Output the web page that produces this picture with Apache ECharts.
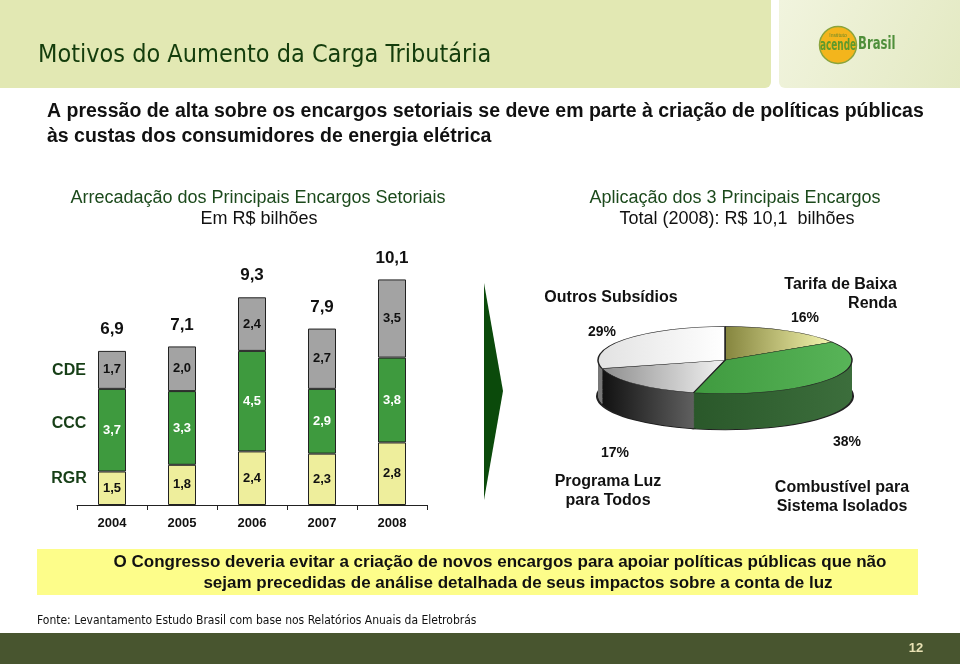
<!DOCTYPE html>
<html>
<head>
<meta charset="utf-8">
<script src="https://cdn.jsdelivr.net/npm/echarts@6/dist/echarts.min.js"></script>
<style>
html,body{margin:0;padding:0;background:#fff;}
#main{position:absolute;left:0;top:0;width:960px;height:664px;}
#pie{position:absolute;left:575px;top:323px;width:300px;height:420px;transform:scaleY(0.265);transform-origin:0 0;}
</style>
</head>
<body>
<div id="main"></div>
<div id="pie"></div>
<script>
// ---- data ----
const years = ['2004', '2005', '2006', '2007', '2008'];
const rgr = [1.5, 1.8, 2.4, 2.3, 2.8];
const ccc = [3.7, 3.3, 4.5, 2.9, 3.8];
const cde = [1.7, 2.0, 2.4, 2.7, 3.5];
const totals = [6.9, 7.1, 9.3, 7.9, 10.1];
const seriesNames = ['RGR', 'CCC', 'CDE'];

const pieNames = ['Tarifa de Baixa\nRenda', 'Combustível para\nSistema Isolados', 'Programa Luz\npara Todos', 'Outros Subsídios'];
const pieValues = [16, 38, 17, 29];

const fmt = v => v.toFixed(1).replace('.', ',');
const SANS = 'Liberation Sans, Arial, sans-serif';
const COND = 'DejaVu Sans Condensed, sans-serif';

// ---- main chart ----
const chart = echarts.init(document.getElementById('main'));

function txt(x, y, text, font, fill, align, extra) {
  return Object.assign({
    type: 'text', x: x, y: y, silent: true,
    style: { text: text, font: font, fill: fill, align: align || 'left', verticalAlign: 'middle' }
  }, extra || {});
}

const pieLabelPos = [
  { name: [897, 294, 'right'], pct: [805, 318] },
  { name: [842, 497, 'center'], pct: [847, 442] },
  { name: [608, 491, 'center'], pct: [615, 453] },
  { name: [611, 298, 'center'], pct: [602, 332] }
];

const graphics = [
  // header band
  { type: 'rect', shape: { x: 0, y: 0, width: 771, height: 88, r: [0, 0, 6, 0] }, style: { fill: '#e2e8b3' }, silent: true },
  { type: 'rect', shape: { x: 779, y: 0, width: 181, height: 88, r: [0, 0, 0, 6] },
    style: { fill: new echarts.graphic.LinearGradient(0, 0, 1, 1, [{ offset: 0, color: '#f1f4de' }, { offset: 1, color: '#e3e9c2' }]) }, silent: true },
  { type: 'circle', shape: { cx: 838, cy: 45, r: 18.5 }, style: { fill: '#f3b51c', stroke: '#8aa43c', lineWidth: 1.5 }, silent: true },
  txt(838, 36, 'Instituto', '5px ' + SANS, '#6a8a2a', 'center'),
  txt(838, 46, 'acende', 'bold 16px ' + COND, '#5e9a2c', 'center', { scaleX: 0.62 }),
  txt(858, 44, 'Brasil', 'bold 18px ' + COND, '#4f8f3a', 'left', { scaleX: 0.72 }),
  txt(38, 55, 'Motivos do Aumento da Carga Tributária', '25px ' + COND, '#143d0c'),
  // subtitle
  txt(47, 112, 'A pressão de alta sobre os encargos setoriais se deve em parte à criação de políticas públicas', 'bold 19.5px ' + SANS, '#111'),
  txt(47, 137, 'às custas dos consumidores de energia elétrica', 'bold 19.5px ' + SANS, '#111'),
  // chart titles
  txt(258, 198, 'Arrecadação dos Principais Encargos Setoriais', '18px ' + SANS, '#1c4a1c', 'center'),
  txt(259, 219, 'Em R$ bilhões', '18px ' + SANS, '#111', 'center'),
  txt(735, 198, 'Aplicação dos 3 Principais Encargos', '18px ' + SANS, '#1c4a1c', 'center'),
  txt(737, 219, 'Total (2008): R$ ' + fmt(totals[totals.length - 1]) + '  bilhões', '18px ' + SANS, '#111', 'center'),
  // row labels
  txt(69, 371, seriesNames[2], 'bold 16px ' + SANS, '#173f17', 'center'),
  txt(69, 424, seriesNames[1], 'bold 16px ' + SANS, '#173f17', 'center'),
  txt(69, 479, seriesNames[0], 'bold 16px ' + SANS, '#173f17', 'center'),
  // arrow
  { type: 'polygon', shape: { points: [[484, 283], [503, 391], [484, 500]] }, style: { fill: '#0b4a0b' }, silent: true },
  // bottom box
  { type: 'rect', shape: { x: 37, y: 549, width: 881, height: 46 }, style: { fill: '#fdfd8a' }, silent: true },
  txt(500, 562, 'O Congresso deveria evitar a criação de novos encargos para apoiar políticas públicas que não', 'bold 17px ' + SANS, '#111', 'center'),
  txt(518, 583, 'sejam precedidas de análise detalhada de seus impactos sobre a conta de luz', 'bold 17px ' + SANS, '#111', 'center'),
  txt(37, 621, 'Fonte: Levantamento Estudo Brasil com base nos Relatórios Anuais da Eletrobrás', '12px ' + COND, '#111'),
  // footer band
  { type: 'rect', shape: { x: 0, y: 633, width: 960, height: 31 }, style: { fill: '#48552f' }, silent: true },
  txt(916, 648, '12', 'bold 13px ' + SANS, '#e9e2b4', 'center')
];

pieValues.forEach((v, i) => {
  const p = pieLabelPos[i];
  graphics.push({
    type: 'text', x: p.name[0], y: p.name[1], silent: true,
    style: { text: pieNames[i], font: 'bold 16px ' + SANS, fill: '#111', align: p.name[2], verticalAlign: 'middle', lineHeight: 19 }
  });
  graphics.push(txt(p.pct[0], p.pct[1], v + '%', 'bold 14px ' + SANS, '#111', 'center'));
});

const segLabel = (color) => ({
  show: true, position: 'inside', color: color, fontWeight: 'bold', fontSize: 13, fontFamily: SANS,
  formatter: p => fmt(p.value)
});

chart.setOption({
  animation: false,
  backgroundColor: '#fff',
  grid: { left: 77, right: 533, top: 237, bottom: 159 },
  xAxis: {
    type: 'category', data: years,
    axisLine: { lineStyle: { color: '#222', width: 1 } },
    axisTick: { show: true, alignWithLabel: false, length: 5, lineStyle: { color: '#222' } },
    axisLabel: { color: '#111', fontWeight: 'bold', fontSize: 13, fontFamily: SANS, margin: 12 }
  },
  yAxis: { type: 'value', min: 0, max: 12, show: false, splitLine: { show: false } },
  series: [
    { name: seriesNames[0], type: 'bar', stack: 's', barWidth: 28, data: rgr,
      itemStyle: { color: '#eeee9c', borderColor: '#222', borderWidth: 1 }, label: segLabel('#111') },
    { name: seriesNames[1], type: 'bar', stack: 's', barWidth: 28, data: ccc,
      itemStyle: { color: '#3e9a3e', borderColor: '#222', borderWidth: 1 }, label: segLabel('#fff') },
    { name: seriesNames[2], type: 'bar', stack: 's', barWidth: 28, data: cde,
      itemStyle: { color: '#a3a3a3', borderColor: '#222', borderWidth: 1 }, label: segLabel('#111') },
    { name: 'Total', type: 'bar', barWidth: 28, barGap: '-100%', data: totals, silent: true, z: 1,
      itemStyle: { color: 'rgba(0,0,0,0)' },
      label: { show: true, position: 'top', distance: 13, color: '#111', fontWeight: 'bold', fontSize: 17, fontFamily: SANS, formatter: p => fmt(p.value) } }
  ],
  graphic: graphics
});

// ---- pie chart (flattened to look like the 3D pie) ----
const pie = echarts.init(document.getElementById('pie'), null, { renderer: 'svg' });
const LG = (a, b) => new echarts.graphic.LinearGradient(0, 0, 1, 0, [{ offset: 0, color: a }, { offset: 1, color: b }]);
const topColors = [LG('#85853e', '#f6f6b0'), LG('#3f9a3f', '#58b458'), LG('#8e8e8e', '#f2f2f2'), LG('#e2e2e2', '#ffffff')];
const sideColors = [LG('#5e5e28', '#7a7a38'), LG('#2a582a', '#3c6e3c'), LG('#111111', '#7a7a7a'), LG('#777777', '#999999')];
const CX = 150, CY = 140, R = 127, DEPTH = 136;
const pieSeries = [];
for (let d = DEPTH; d >= 2; d -= 2) {
  pieSeries.push({
    type: 'pie', center: [CX, CY + d], radius: R, startAngle: 90, clockwise: true, silent: true,
    label: { show: false }, labelLine: { show: false },
    itemStyle: d === DEPTH ? { borderColor: '#222', borderWidth: 4 } : { borderWidth: 0 },
    data: pieValues.map((v, i) => ({ value: v, name: pieNames[i], itemStyle: { color: sideColors[i] } }))
  });
}
pieSeries.push({
  type: 'pie', center: [CX, CY], radius: R, startAngle: 90, clockwise: true, silent: true,
  label: { show: false }, labelLine: { show: false },
  itemStyle: { borderColor: '#222', borderWidth: 1.5 },
  data: pieValues.map((v, i) => ({ value: v, name: pieNames[i], itemStyle: { color: topColors[i] } }))
});
pie.setOption({ animation: false, series: pieSeries });
</script>
</body>
</html>
